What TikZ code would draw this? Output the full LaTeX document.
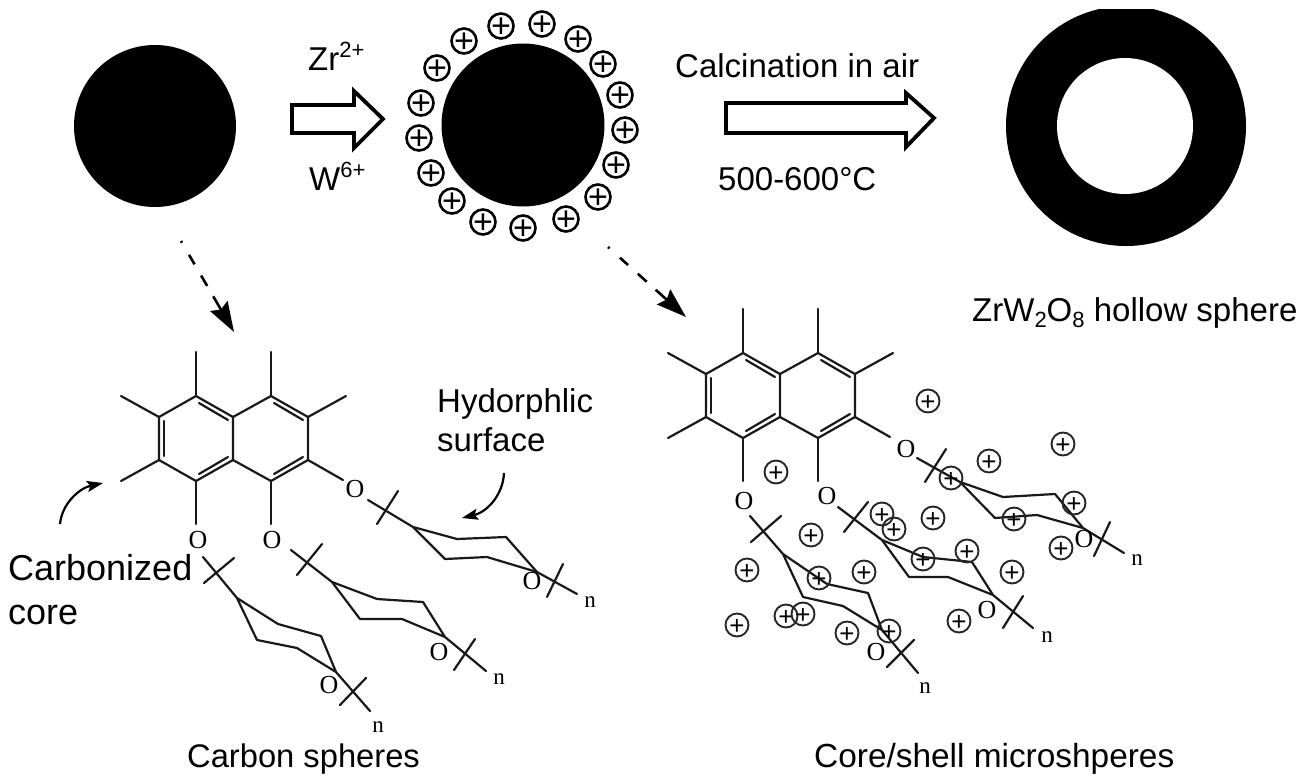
\documentclass[tikz,border=0pt]{standalone}
\usepackage{fontspec}
\setmainfont{Liberation Sans}
\newfontfamily\chemserif{Liberation Serif}
\usetikzlibrary{arrows.meta}
\newcommand{\supr}[1]{\raisebox{0.38em}{\fontsize{22}{22}\selectfont #1}}
\newcommand{\subr}[1]{\raisebox{-0.2em}{\fontsize{22}{22}\selectfont #1}}
\tikzset{
  label33/.style={anchor=base west,inner sep=0pt,font=\fontsize{33}{38}\selectfont},
  label36/.style={anchor=base west,inner sep=0pt,font=\fontsize{36}{40}\selectfont},
  bond/.style={line width=2.2pt,black!90,line cap=round,line join=round},
  oxy/.style={inner sep=0pt,font=\chemserif\fontsize{26}{26}\selectfont},
  rep/.style={inner sep=0pt,font=\chemserif\fontsize{23}{23}\selectfont},
  blockarrow/.style={line width=3.8pt,draw=black,fill=white,line join=miter},
  ball/.style={circle,fill=black,inner sep=0pt},
  ionbig/.style={circle,draw=black,line width=2.6pt,inner sep=0pt,minimum size=25pt,
     font=\fontsize{34}{34}\selectfont},
  ionsmall/.style={circle,draw=black!85,line width=1.9pt,inner sep=0pt,minimum size=23pt,
     font=\fontsize{26}{26}\selectfont},
  dasharrow/.style={line width=2.6pt,dash pattern=on 2pt off 14pt on 11pt off 13pt on 12pt off 12pt on 60pt,
     -{Stealth[length=30pt,width=20pt,inset=4pt]}},
  curvearrow/.style={line width=2.2pt,-{Stealth[length=16pt,width=11pt,inset=3pt]}},
}
\newcommand{\plusmark}{\smash{\makebox[0pt]{\raisebox{-0.35em}{+}}}}
\newcommand{\naphth}{%
  \draw[bond] (196,396)--(233,417)--(233,460)--(196,481)--(159,460)--(159,417)--cycle;
  \draw[bond] (233,417)--(271,396)--(308,417)--(308,460)--(271,481)--(233,460);
  \draw[bond] (199,403)--(228,420);
  \draw[bond] (164,421)--(164,456);
  \draw[bond] (199,474)--(228,457);
  \draw[bond] (274,403)--(303,420);
  \draw[bond] (274,474)--(303,457);
  \draw[bond] (196,396)--(196,352);
  \draw[bond] (271,396)--(271,352);
  \draw[bond] (159,417)--(121,396);
  \draw[bond] (159,460)--(121,481);
  \draw[bond] (308,417)--(346,396);
  \draw[bond] (308,460)--(343,480);
  \draw[bond] (196,481)--(196,524);
  \draw[bond] (271,481)--(271,524);
}
\begin{document}
\begin{tikzpicture}[x=1pt,y=-1pt]
\useasboundingbox (0,0) rectangle (1299,780);
% spheres
\node[ball,minimum size=162pt] (carbon) at (155,126) {};
\node[ball,minimum size=163pt] (coated) at (523,125) {};
\begin{scope}
  \clip (990,9) rectangle (1260,260);
  \node[ball,minimum size=240pt] (hollow) at (1126,126) {};
\end{scope}
\node[circle,fill=white,inner sep=0pt,minimum size=136pt] (cavity) at (1125,126) {};
% ions round the coated sphere
\foreach \i/\x/\y in {1/501/26,2/542/24,3/578/39,4/603/64,5/620/95,6/625/130,7/616/165,8/598/197,
  9/566/219,10/523/228,11/483/222,12/452/201,13/431/173,14/419/138,15/421/103,16/437/68,17/464/41}
  \node[ionbig] (big\i) at (\x,\y) {\plusmark};
% block arrows
\draw[blockarrow] (292,105)--(354,105)--(354,91)--(383,119)--(354,148)--(354,133)--(292,133)--cycle;
\draw[blockarrow] (726,103)--(906,103)--(906,93)--(934,118)--(906,147)--(906,133)--(726,133)--cycle;
% top labels
\node[label33] (zr) at (308,70) {Zr\supr{2+}};
\node[label33] (w) at (309,190) {W\supr{6+}};
\node[label33] (calc) at (675,77) {Calcination in air};
\node[label33] (temp) at (718,190) {500-600°C};
\node[label33] (zrw) at (972,321) {ZrW\subr{2}O\subr{8} hollow sphere};
% dashed arrows
\coordinate (d1s) at (181,241); \coordinate (d1e) at (234,332);
\coordinate (d2s) at (608,247); \coordinate (d2e) at (686,317);
\draw[dasharrow] (d1s)--(d1e);
\draw[dasharrow] (d2s)--(d2e);
% left molecule
\naphth
\node[oxy] (lo3) at (355,489) {O};
\node[oxy] (lo2) at (272,540) {O};
\node[oxy] (lo1) at (198,540) {O};
% left chain 3
\draw[bond] (368,500)--(413,527)--(457,539)--(506,537)--(537,572)--(577,594);
\draw[bond] (413,527)--(445,559)--(487,557)--(537,572);
\draw[bond] (398,491)--(377,524);
\draw[bond] (563,564)--(547,597);
\node[oxy] (lo3b) at (532,581) {O};
\node[rep] (ln3) at (590,602) {n};
% left chain 2
\draw[bond] (291,550)--(332,582)--(377,599)--(423,602)--(445,637)--(486,671);
\draw[bond] (332,582)--(360,619)--(402,619)--(445,637);
\draw[bond] (322,544)--(297,575);
\draw[bond] (475,639)--(454,670);
\node[oxy] (lo2b) at (439,652) {O};
\node[rep] (ln2) at (499,679) {n};
% left chain 1
\draw[bond] (203,557)--(237,598)--(278,624)--(321,636)--(336,672)--(370,711);
\draw[bond] (237,598)--(257,640)--(297,648)--(336,672);
\draw[bond] (234,558)--(204,583);
\draw[bond] (366,678)--(340,705);
\node[oxy] (lo1b) at (329,685) {O};
\node[rep] (ln1) at (378,727) {n};
% left annotations
\node[label33] (hyd1) at (437,412) {Hydorphlic};
\node[label33] (hyd2) at (437,451) {surface};
\coordinate (ha) at (504,473); \coordinate (hb) at (462,518);
\draw[curvearrow] (ha) .. controls (503,495) and (487,512) .. (hb);
\node[label36] (carb1) at (8,580) {Carbonized};
\node[label36] (carb2) at (8,624) {core};
\coordinate (ca) at (60,524); \coordinate (cb) at (103,483);
\draw[curvearrow] (ca) .. controls (62,503) and (80,488) .. (cb);
\node[label33,font=\fontsize{32.7}{38}\selectfont] (cap1) at (187,767) {Carbon spheres};
% right molecule
\begin{scope}[shift={(547,-43)}]
\naphth
\end{scope}
\node[oxy] (ro3) at (906,449) {O};
\node[oxy] (ro2) at (827,496) {O};
\node[oxy] (ro1) at (744,501) {O};
% right chain 3
\draw[bond] (917,458)--(960,482)--(1003,497)--(1055,494)--(1083,528)--(1124,553);
\draw[bond] (960,482)--(995,518)--(1037,515)--(1083,528);
\draw[bond] (946,449)--(925,482);
\draw[bond] (1110,522)--(1094,556);
\node[oxy] (ro3b) at (1084,539) {O};
\node[rep] (rn3) at (1137,560) {n};
% right chain 2
\draw[bond] (838,507)--(882,540)--(923,557)--(972,562)--(993,595)--(1033,628);
\draw[bond] (882,540)--(909,577)--(948,577)--(993,595);
\draw[bond] (868,502)--(844,532);
\draw[bond] (1023,596)--(1003,628);
\node[oxy] (ro2b) at (987,610) {O};
\node[rep] (rn2) at (1047,637) {n};
% right chain 1
\draw[bond] (750,516)--(783,554)--(827,584)--(868,593)--(882,630)--(918,673);
\draw[bond] (783,554)--(803,597)--(843,606)--(882,630);
\draw[bond] (781,516)--(751,542);
\draw[bond] (914,640)--(887,667);
\node[oxy] (ro1b) at (876,652) {O};
\node[rep] (rn1) at (925,688) {n};
% ions round the right molecule
\foreach \i/\x/\y in {1/928/401,2/1063/444,3/989/461,4/951/478,5/776/472,6/1074/503,7/882/514,8/894/529,
  9/933/518,10/1014/519,11/811/535,12/967/551,13/1061/548,14/923/559,15/747/570,16/864/572,17/1012/572,
  18/819/578,19/786/616,20/803/614,21/737/625,22/847/633,23/889/631,24/959/621}
  \node[ionsmall] (small\i) at (\x,\y) {\plusmark};
\node[label33,font=\fontsize{33.4}{38}\selectfont] (cap2) at (814,767) {Core/shell microshperes};
\end{tikzpicture}
\end{document}
